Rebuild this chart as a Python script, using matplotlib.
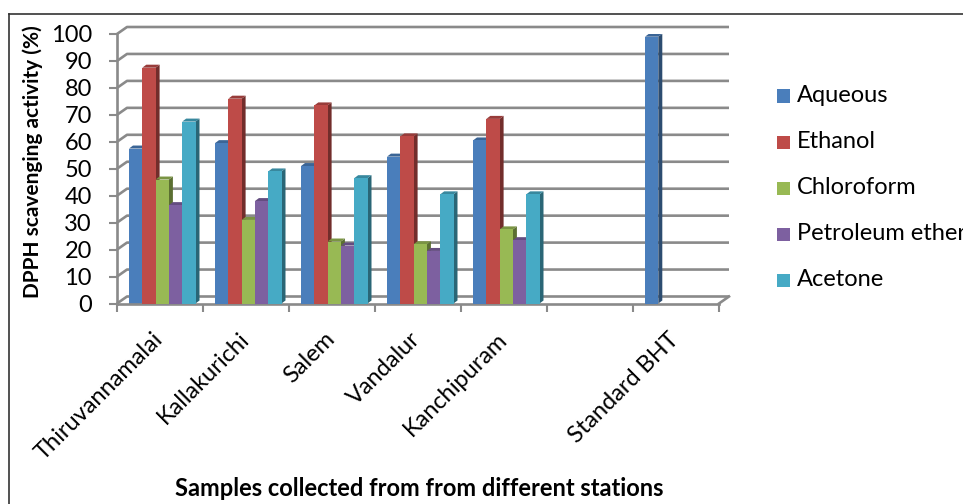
import numpy as np
import matplotlib.pyplot as plt
from matplotlib.patches import Polygon, Rectangle
from matplotlib.lines import Line2D

plt.rcParams['font.family'] = ['Lato', 'DejaVu Sans']

# DPPH scavenging activity (%) per extract and sampling station
stations = ["Thiruvannamalai", "Kallakurichi", "Salem", "Vandalur",
            "Kanchipuram", "", "Standard BHT"]
aqueous = [57.5, 59.5, 51.0, 54.5, 60.5, np.nan, 99.0]
ethanol = [87.5, 76.0, 73.5, 62.0, 68.5, np.nan, np.nan]
chloroform = [46.0, 31.0, 23.0, 22.0, 27.5, np.nan, np.nan]
petroleum_ether = [36.5, 38.0, 21.5, 19.5, 23.5, np.nan, np.nan]
acetone = [67.5, 49.0, 46.5, 40.5, 40.5, np.nan, np.nan]

series_names = ["Aqueous", "Ethanol", "Chloroform", "Petroleum ether", "Acetone"]
series_values = [aqueous, ethanol, chloroform, petroleum_ether, acetone]
colors = ["#4a7ebb", "#be4b48", "#98b954", "#7d60a0", "#46aac5"]

W, H = 963, 504
fig = plt.figure(figsize=(W / 100, H / 100), dpi=100)

# plot area (front plane), in pixels
x0, x1 = 117, 719
y_zero, y_top = 303.5, 34
ax = fig.add_axes([x0 / W, 1 - y_zero / H, (x1 - x0) / W, (y_zero - y_top) / H])
n = len(stations)
ax.set_xlim(0, n)
ax.set_ylim(0, 100)

px_x = (x1 - x0) / n
px_y = (y_zero - y_top) / 100

grid_col = "#8a8a8a"
# wall depth offset
wdx, wdy = 10 / px_x, 7 / px_y
for v in range(0, 101, 10):
    ax.plot([0, wdx, n + wdx], [v, v + wdy, v + wdy], color=grid_col,
            lw=1.9, clip_on=False, zorder=1, solid_capstyle='butt')
ax.plot([n, n + wdx], [0, wdy], color=grid_col, lw=1.9, clip_on=False, zorder=1)

for side in ["top", "right"]:
    ax.spines[side].set_visible(False)
for side in ["left", "bottom"]:
    ax.spines[side].set_color(grid_col)
    ax.spines[side].set_linewidth(1.9)
ax.patch.set_visible(False)

ax.set_yticks(range(0, 101, 10))
ax.tick_params(axis='y', length=6, width=1.5, color=grid_col, pad=12,
               labelsize=17, labelcolor="#000000")
ax.set_xticks(range(0, n + 1))
ax.set_xticklabels([])
ax.tick_params(axis='x', which='major', length=6, width=1.5, color=grid_col)
ax.set_xticks(np.arange(n) + 0.58, minor=True)
ax.set_xticklabels(stations, minor=True, rotation=45, ha='right', va='top',
                   fontsize=17)
ax.tick_params(axis='x', which='minor', length=0, pad=18)

# 3D-looking clustered columns
bw = 13.3 / px_x
start = 12 / px_x
bdx, bdy = 4 / px_x, 3 / px_y


def shade(c, f):
    rgb = np.array(plt.matplotlib.colors.to_rgb(c))
    return tuple(rgb * f)


z = 2
for i in range(n):
    for k, vals in enumerate(series_values):
        v = vals[i]
        if np.isnan(v):
            continue
        left = i + start + k * bw
        right = left + bw
        side = Polygon([(right, 0), (right + bdx, bdy), (right + bdx, v + bdy), (right, v)],
                       closed=True, facecolor=shade(colors[k], 0.6), edgecolor='none', zorder=z)
        top = Polygon([(left, v), (left + bdx, v + bdy), (right + bdx, v + bdy), (right, v)],
                      closed=True, facecolor=shade(colors[k], 0.8), edgecolor='none', zorder=z)
        ax.add_patch(side)
        ax.add_patch(top)
        ax.bar(left, v, width=bw, align='edge', color=colors[k], edgecolor='none',
               zorder=z + 0.5)
        z += 1

ax.set_ylabel("DPPH scavenging activity (%)", fontsize=15, fontweight='bold')
ax.yaxis.set_label_coords(43 / W, 1 - 162 / H, transform=fig.transFigure)

fig.text(419 / W, 1 - 489 / H, "Samples collected from from different stations",
         ha='center', va='center', fontsize=17, fontweight='bold')

# legend
for k, name in enumerate(series_names):
    yc = 96 + k * 46
    fig.add_artist(Rectangle((777 / W, 1 - (yc + 6.5) / H), 13 / W, 13 / H,
                             transform=fig.transFigure, facecolor=colors[k],
                             edgecolor='none'))
    fig.text(797 / W, 1 - yc / H, name, ha='left', va='center', fontsize=17)

# outer frame
fig.add_artist(Line2D([9 / W, 1], [1 - 14 / H, 1 - 14 / H], color="#333333", lw=1.2,
                      transform=fig.transFigure))
fig.add_artist(Line2D([9 / W, 9 / W], [0, 1 - 14 / H], color="#333333", lw=1.2,
                      transform=fig.transFigure))

fig.savefig("out.png", dpi=100)
